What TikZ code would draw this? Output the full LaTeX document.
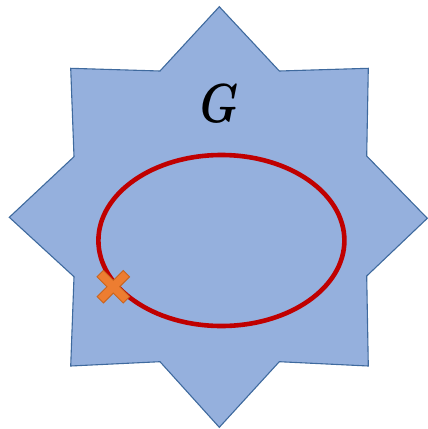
\documentclass[tikz,border=0pt]{standalone}
\usepackage{bm}
\begin{document}
\begin{tikzpicture}[x=1pt,y=-1pt,
  starfill/.style={fill=starblue,draw=starline,line width=1.1pt,line join=miter},
  loop/.style={draw=loopred,line width=4.6pt},
  cross/.style={fill=crossorange,draw=crossline,line width=0.9pt}]
\definecolor{starblue}{HTML}{95B0DD}
\definecolor{starline}{HTML}{3F6A9E}
\definecolor{loopred}{HTML}{C00000}
\definecolor{crossorange}{HTML}{ED7D31}
\definecolor{crossline}{HTML}{C9651F}
\useasboundingbox (0,0) rectangle (428,429);
\path[starfill] (219.3,6.7) -- (279.3,71) -- (368.3,68.3) -- (366.7,156) -- (427.3,218.3)
  -- (366.7,276) -- (368.3,366) -- (279.3,361.7) -- (219.3,427.3) -- (160,361.7)
  -- (70.7,366) -- (74,276.7) -- (9.3,217.3) -- (74,156.7) -- (70.7,68.3) -- (160,71) -- cycle;
\node[xscale=4.3,yscale=5.5] (g) at (219.3,104) {$\bm{G}$};
\draw[loop] (221.4,240.5) ellipse [x radius=123, y radius=85.5];
\begin{scope}[shift={(113.3,286.7)},rotate=45]
\path[cross] (4.5,4.5) -- (18.5,4.5) -- (18.5,-4.5) -- (4.5,-4.5) -- (4.5,-18.5) -- (-4.5,-18.5)
  -- (-4.5,-4.5) -- (-18.5,-4.5) -- (-18.5,4.5) -- (-4.5,4.5) -- (-4.5,18.5) -- (4.5,18.5) -- cycle;
\end{scope}
\end{tikzpicture}
\end{document}
